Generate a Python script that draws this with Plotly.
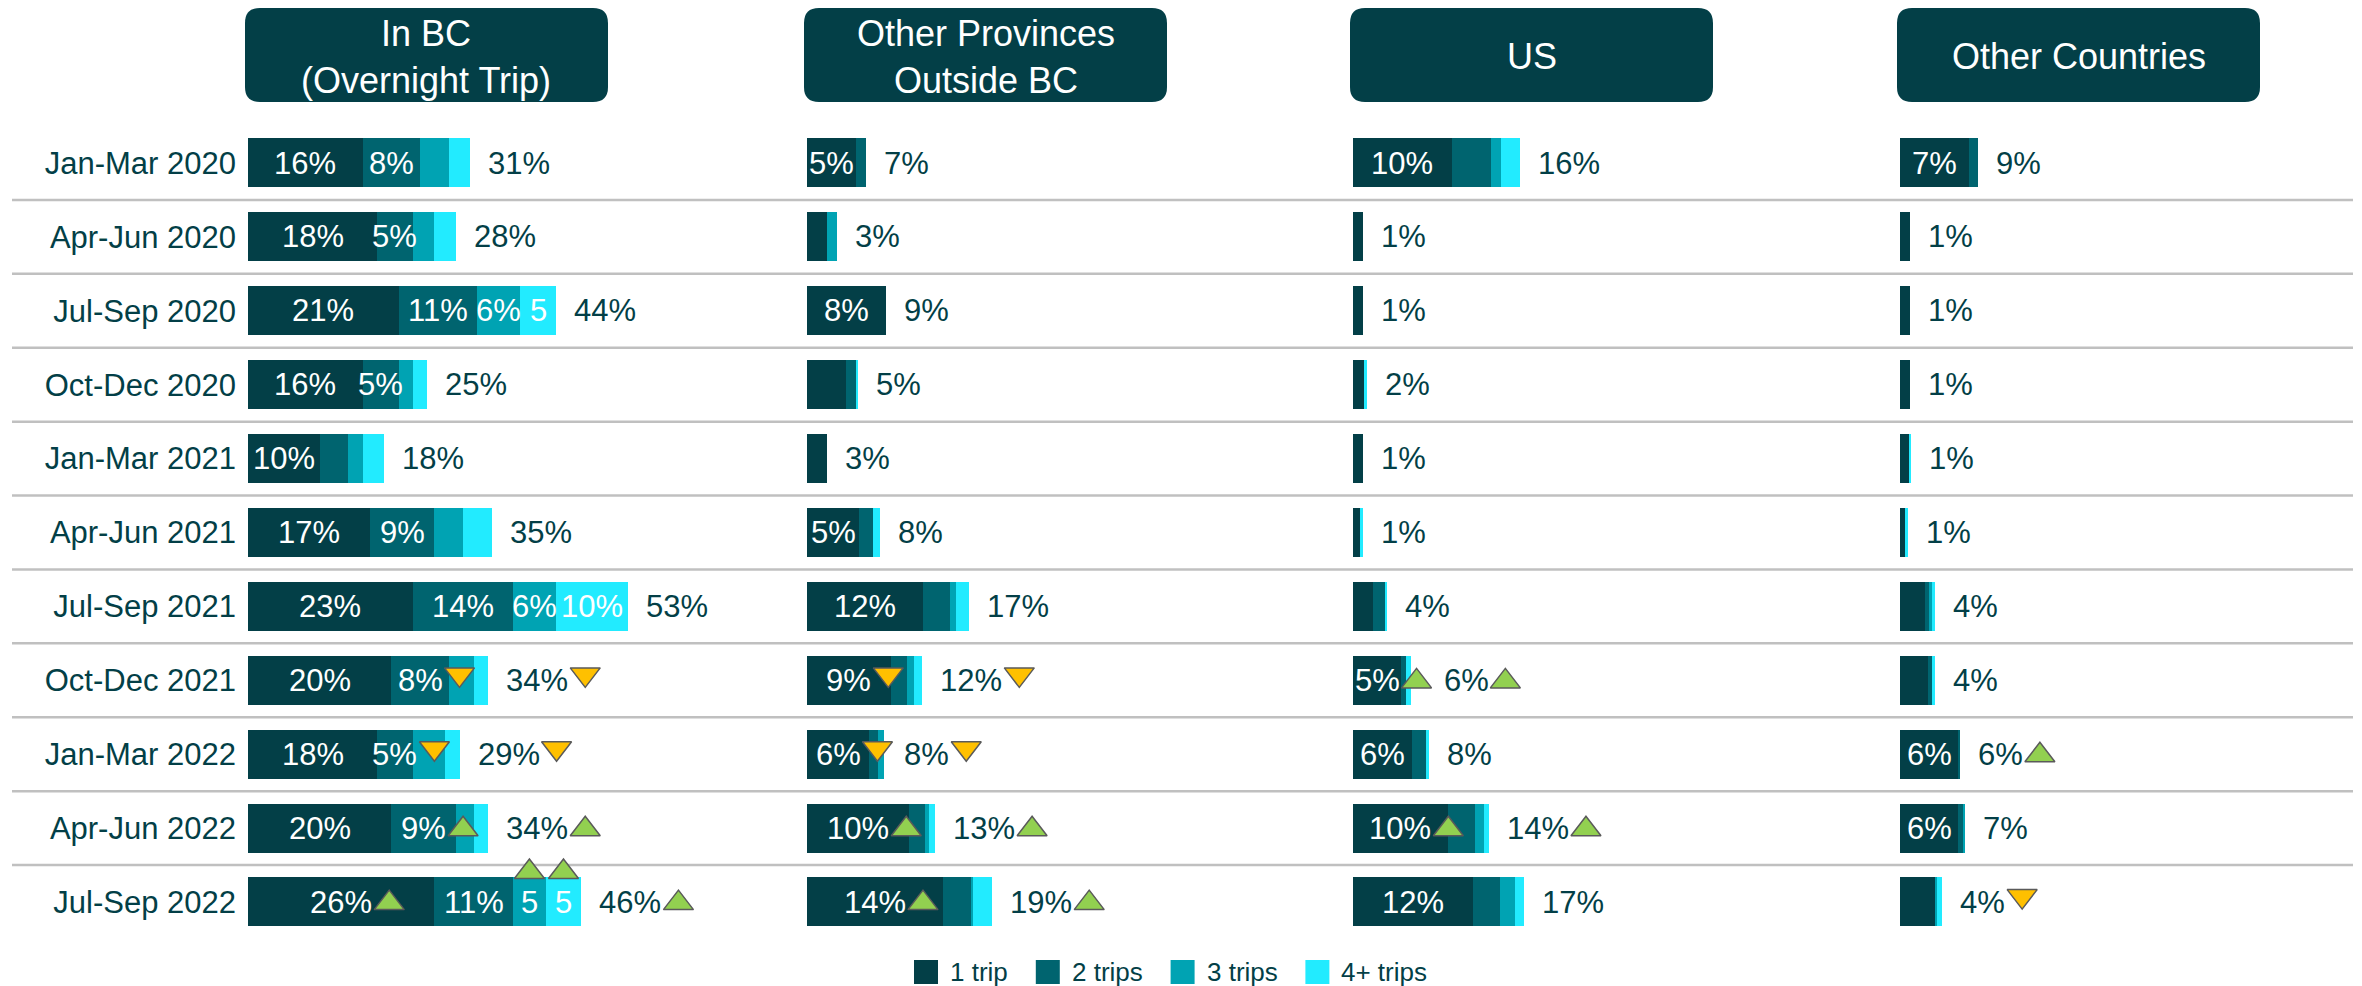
import plotly.graph_objects as go

# ---------------- data ----------------
periods = ["Jan-Mar 2020", "Apr-Jun 2020", "Jul-Sep 2020", "Oct-Dec 2020",
           "Jan-Mar 2021", "Apr-Jun 2021", "Jul-Sep 2021", "Oct-Dec 2021",
           "Jan-Mar 2022", "Apr-Jun 2022", "Jul-Sep 2022"]
series_names = ["1 trip", "2 trips", "3 trips", "4+ trips"]
panel_titles = ["In BC<br>(Overnight Trip)", "Other Provinces<br>Outside BC", "US", "Other Countries"]

# In BC (overnight trip)
inbc_trip1 = [16, 18, 21, 16, 10, 17, 23, 20, 18, 20, 26]
inbc_trip2 = [8, 5, 11, 5, 4, 9, 14, 8, 5, 9, 11]
inbc_trip3 = [4, 3, 6, 2, 2, 4, 6, 3.5, 4.5, 2.5, 4.5]
inbc_trip4 = [3, 3, 5, 2, 3, 4, 10, 2, 2, 2, 5]
inbc_total = [31, 28, 44, 25, 18, 35, 53, 34, 29, 34, 46]
inbc_lab1 = ["16%", "18%", "21%", "16%", "10%", "17%", "23%", "20%", "18%", "20%", "26%"]
inbc_lab2 = ["8%", "5%", "11%", "5%", "", "9%", "14%", "8%", "5%", "9%", "11%"]
inbc_lab3 = ["", "", "6%", "", "", "", "6%", "", "", "", "5"]
inbc_lab4 = ["", "", "5", "", "", "", "10%", "", "", "", "5"]
inbc_trend1 = ["", "", "", "", "", "", "", "", "", "", "up"]
inbc_trend2 = ["", "", "", "", "", "", "", "down", "down", "up", ""]
inbc_trend3 = ["", "", "", "", "", "", "", "", "", "", "up"]
inbc_trend4 = ["", "", "", "", "", "", "", "", "", "", "up"]
inbc_trend_total = ["", "", "", "", "", "", "", "down", "down", "up", "up"]

# Other provinces outside BC
op_trip1 = [5, 2, 8, 4, 2, 5.3, 11.8, 8.5, 6.3, 10.4, 13.8]
op_trip2 = [1, 0, 0, 1, 0, 1.4, 2.7, 1.7, 0.9, 1.6, 2.8]
op_trip3 = [0, 1, 0, 0, 0, 0, 0.6, 0.7, 0.6, 0.4, 0.3]
op_trip4 = [0, 0, 0, 0.2, 0, 0.7, 1.3, 0.8, 0, 0.6, 1.9]
op_total = [7, 3, 9, 5, 3, 8, 17, 12, 8, 13, 19]
op_lab1 = ["5%", "", "8%", "", "", "5%", "12%", "9%", "6%", "10%", "14%"]
op_trend1 = ["", "", "", "", "", "", "", "down", "down", "up", "up"]
op_trend_total = ["", "", "", "", "", "", "", "down", "down", "up", "up"]

# US
us_trip1 = [10, 1, 1, 1.2, 1, 0.7, 2, 4.9, 6, 9.6, 12.2]
us_trip2 = [4, 0, 0, 0, 0, 0, 1.2, 0.5, 1.4, 2.8, 2.7]
us_trip3 = [1, 0, 0, 0, 0, 0, 0, 0, 0, 0.9, 1.5]
us_trip4 = [2, 0, 0, 0.2, 0, 0.3, 0.3, 0.5, 0.3, 0.5, 1]
us_total = [16, 1, 1, 2, 1, 1, 4, 6, 8, 14, 17]
us_lab1 = ["10%", "", "", "", "", "", "", "5%", "6%", "10%", "12%"]
us_trend1 = ["", "", "", "", "", "", "", "up", "", "up", ""]
us_trend_total = ["", "", "", "", "", "", "", "up", "", "up", ""]

# Other countries
oc_trip1 = [7, 1, 1, 1, 1, 0.6, 2.5, 2.8, 5.9, 5.9, 3.6]
oc_trip2 = [0.9, 0, 0, 0, 0, 0, 0.5, 0.4, 0.2, 0.5, 0]
oc_trip3 = [0, 0, 0, 0, 0, 0, 0.2, 0, 0, 0.2, 0.2]
oc_trip4 = [0, 0, 0, 0, 0.1, 0.2, 0.4, 0.4, 0, 0, 0.5]
oc_total = [9, 1, 1, 1, 1, 1, 4, 4, 6, 7, 4]
oc_lab1 = ["7%", "", "", "", "", "", "", "", "6%", "6%", ""]
oc_trend_total = ["", "", "", "", "", "", "", "", "up", "", "down"]

blank = [""] * len(periods)
panels = [
    dict(vals=[inbc_trip1, inbc_trip2, inbc_trip3, inbc_trip4], total=inbc_total,
         labs=[inbc_lab1, inbc_lab2, inbc_lab3, inbc_lab4],
         trends=[inbc_trend1, inbc_trend2, inbc_trend3, inbc_trend4], ttrend=inbc_trend_total),
    dict(vals=[op_trip1, op_trip2, op_trip3, op_trip4], total=op_total,
         labs=[op_lab1, blank, blank, blank],
         trends=[op_trend1, blank, blank, blank], ttrend=op_trend_total),
    dict(vals=[us_trip1, us_trip2, us_trip3, us_trip4], total=us_total,
         labs=[us_lab1, blank, blank, blank],
         trends=[us_trend1, blank, blank, blank], ttrend=us_trend_total),
    dict(vals=[oc_trip1, oc_trip2, oc_trip3, oc_trip4], total=oc_total,
         labs=[oc_lab1, blank, blank, blank],
         trends=[blank, blank, blank, blank], ttrend=oc_trend_total),
]

# ---------------- style / layout ----------------
FW, FH = 2362, 986
FONT = "Liberation Sans, Arial, sans-serif"
DARK = "#033F47"
COLORS = ["#033F47", "#00646F", "#00A3B3", "#22EBFF"]
UP_COL, DOWN_COL = "#92D050", "#FFC000"
FS = 31
HFS = 36
panel_x0 = [248, 807, 1353, 1900]
panel_w = [540, 520, 520, 440]
ppp = [7.17, 9.85, 9.85, 9.85]      # pixels per percentage point
ROW0, PITCH = 163, 73.9
BAR_W = 0.664
TRI_SIZE = 26
TRI_W = TRI_SIZE * 2 / 3 ** 0.5
TOT_GAP = 16


def px(x):
    return x / FW


def py(y):
    return 1 - y / FH


rows = list(range(len(periods)))


def text_w(s, size=FS):
    w = {"%": 0.889, " ": 0.278, "t": 0.278, "r": 0.333, "i": 0.222, "p": 0.556,
         "s": 0.5, "+": 0.584}
    return sum(w.get(c, 0.556) for c in s) * size


fig = go.Figure()
annotations = []
shapes = []

for p, panel in enumerate(panels):
    xa = "x" if p == 0 else f"x{p + 1}"
    tri = {"up": ([], []), "down": ([], [])}
    for s in range(4):
        fig.add_trace(go.Bar(
            y=rows, x=panel["vals"][s], orientation="h", width=BAR_W,
            marker=dict(color=COLORS[s], line=dict(width=0)),
            name=series_names[s], showlegend=False, hoverinfo="skip",
            xaxis=xa, yaxis="y"))
    for i in rows:
        cum = 0
        tri_right = 0
        for s in range(4):
            v = panel["vals"][s][i]
            mid = cum + v / 2
            lab = panel["labs"][s][i]
            tr = panel["trends"][s][i]
            if lab:
                annotations.append(dict(x=mid, y=i, xref=xa, yref="y", text=lab,
                                        showarrow=False, xanchor="center", yanchor="middle",
                                        font=dict(family=FONT, size=FS, color="white")))
            if tr:
                if "%" not in lab:
                    tx, ty = mid, i - BAR_W / 2 - 0.075
                else:
                    tx = mid + (text_w(lab) / 2 + 2 + TRI_W / 2) / ppp[p]
                    ty = i + (0.015 if tr == "up" else -0.08)
                    tri_right = max(tri_right, tx * ppp[p] + TRI_W / 2)
                tri[tr][0].append(tx)
                tri[tr][1].append(ty)
            cum += v
        tot_lab = f"{panel['total'][i]}%"
        start_px = max(cum * ppp[p] + TOT_GAP, tri_right + 10)
        annotations.append(dict(x=start_px / ppp[p], y=i, xref=xa, yref="y", text=tot_lab,
                                showarrow=False, xanchor="left", yanchor="middle",
                                font=dict(family=FONT, size=FS, color=DARK)))
        tr = panel["ttrend"][i]
        if tr:
            tri[tr][0].append((start_px + text_w(tot_lab) + 4 + TRI_W / 2) / ppp[p])
            tri[tr][1].append(i + (0.015 if tr == "up" else -0.08))
    for d, sym, col in (("up", "triangle-up", UP_COL), ("down", "triangle-down", DOWN_COL)):
        if tri[d][0]:
            fig.add_trace(go.Scatter(
                x=tri[d][0], y=tri[d][1], mode="markers", xaxis=xa, yaxis="y",
                marker=dict(symbol=sym, size=TRI_SIZE, color=col,
                            line=dict(color="#5A5A5A", width=1.5)),
                showlegend=False, hoverinfo="skip", cliponaxis=False))

# header boxes
BOX_W = 363
for p in range(4):
    x0, x1 = px(panel_x0[p] - 3), px(panel_x0[p] - 3 + BOX_W)
    y0, y1 = py(102), py(8)
    rx, ry = 15 / FW, 15 / FH
    path = (f"M{x0 + rx},{y0} L{x1 - rx},{y0} Q{x1},{y0} {x1},{y0 + ry} "
            f"L{x1},{y1 - ry} Q{x1},{y1} {x1 - rx},{y1} L{x0 + rx},{y1} "
            f"Q{x0},{y1} {x0},{y1 - ry} L{x0},{y0 + ry} Q{x0},{y0} {x0 + rx},{y0} Z")
    shapes.append(dict(type="path", path=path, xref="paper", yref="paper",
                       fillcolor=DARK, line=dict(width=0), layer="above"))
    annotations.append(dict(x=(x0 + x1) / 2, y=(y0 + y1) / 2 - 2 / FH, xref="paper", yref="paper",
                            text=panel_titles[p], showarrow=False,
                            xanchor="center", yanchor="middle",
                            font=dict(family=FONT, size=HFS, color="white")))

# row separators and frame lines
lx0, lx1 = px(12), px(2353)
for i in rows[:-1]:
    shapes.append(dict(type="line", xref="paper", yref="y", x0=lx0, x1=lx1,
                       y0=i + 0.5, y1=i + 0.5, line=dict(color="#C0C0C0", width=2.5),
                       layer="below"))
for yv in (-0.55, len(rows) - 0.48):
    shapes.append(dict(type="line", xref="paper", yref="y", x0=lx0, x1=lx1,
                       y0=yv, y1=yv, line=dict(color="#404040", width=3)))

# legend (drawn as squares + labels)
LFS = 26
SQ = 24
lx = 914
for s, name in enumerate(series_names):
    shapes.append(dict(type="rect", xref="paper", yref="paper",
                       x0=px(lx), x1=px(lx + SQ), y0=py(972 + SQ / 2), y1=py(972 - SQ / 2),
                       fillcolor=COLORS[s], line=dict(width=0)))
    annotations.append(dict(x=px(lx + SQ + 10), y=py(972), xref="paper", yref="paper",
                            text=name, showarrow=False, xanchor="left", yanchor="middle",
                            font=dict(family=FONT, size=LFS, color=DARK)))
    lx = lx + SQ + 10 + text_w(name, LFS) + 30

top_px = ROW0 - 0.5 * PITCH
bot_px = ROW0 + (len(rows) - 0.5) * PITCH
layout = dict(
    width=FW, height=FH, margin=dict(l=0, r=0, t=0, b=0),
    paper_bgcolor="white", plot_bgcolor="white",
    barmode="stack", bargap=0,
    font=dict(family=FONT, color=DARK),
    annotations=annotations, shapes=shapes,
    showlegend=False,
    yaxis=dict(domain=[py(bot_px), py(top_px)], range=[len(rows) - 0.5, -0.5],
               tickvals=rows, ticktext=periods, showgrid=False, zeroline=False,
               showline=False, ticks="", ticklabelstandoff=11,
               tickfont=dict(family=FONT, size=FS, color=DARK), anchor="x", fixedrange=True),
)
for p in range(4):
    key = "xaxis" if p == 0 else f"xaxis{p + 1}"
    layout[key] = dict(domain=[px(panel_x0[p]), px(panel_x0[p] + panel_w[p])],
                       range=[0, panel_w[p] / ppp[p]], visible=False, anchor="y",
                       fixedrange=True)

fig.update_layout(**layout)
fig.write_html("out.html", config={"displayModeBar": False},
               post_script="document.body.style.margin='0';document.body.style.overflow='hidden';")
